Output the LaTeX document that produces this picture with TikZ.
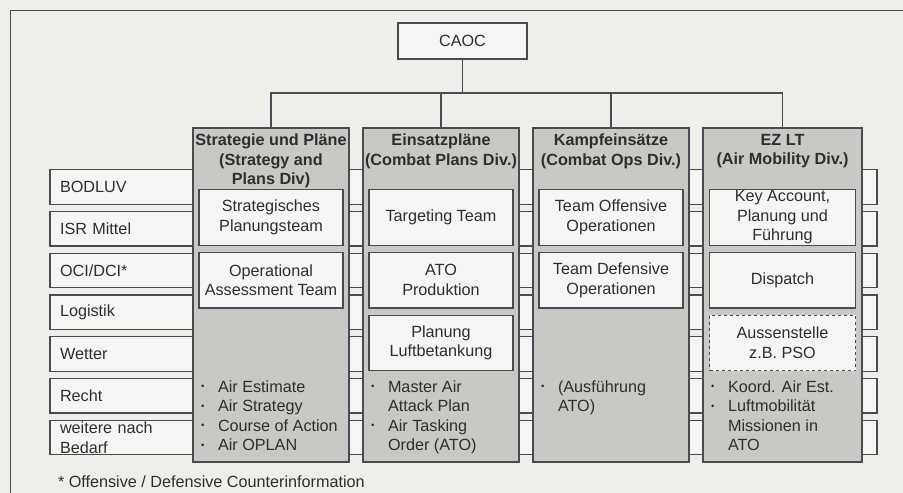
\documentclass[tikz,border=0pt]{standalone}
\usepackage{fontspec}
\setmainfont{Liberation Sans}
\usepackage{xcolor}
\usepackage{tikz}
\usetikzlibrary{positioning}

\definecolor{paper}{HTML}{EEEEEA}
\definecolor{divgray}{HTML}{C8C8C5}
\definecolor{boxwhite}{HTML}{F5F5F3}
\definecolor{edgegray}{HTML}{4C4952}
\definecolor{inkgray}{HTML}{2E2E2E}
\newcommand{\blt}{\raisebox{2.6pt}{\fontsize{9.5}{9.5}\selectfont\textbullet}}

\begin{document}
\begin{tikzpicture}[x=1pt,y=-1pt,node distance=41.75pt,line width=1.2pt,
		every node/.style={text=inkgray,font=\fontsize{16.2}{19.5}\selectfont}]
		\tikzstyle{band}=[draw=edgegray,fill=boxwhite,text width=807pt,align=left,
			minimum height=34.5pt,inner xsep=10pt,inner ysep=0pt]
		\tikzstyle{division}=[draw=edgegray,fill=divgray,minimum width=156pt,minimum height=334pt]
		\tikzstyle{header}=[font=\bfseries\fontsize{16.2}{19.5}\selectfont,align=center,inner ysep=3pt]
		\tikzstyle{team}=[draw=edgegray,fill=boxwhite,minimum width=144pt,minimum height=55.5pt,
			align=center,inner xsep=1pt,inner ysep=1pt]
		\tikzstyle{bullets}=[anchor=north west,inner sep=0pt,align=left]
		\tikzstyle{link}=[draw=edgegray]
		
		\useasboundingbox (0,0) rectangle (903,493);
		\fill[paper] (0,0) rectangle (903,493);
		\draw[edgegray,line width=1pt] (10,10) rectangle (925,515);
		
		\node[draw=edgegray,fill=boxwhite,minimum width=129pt,minimum height=36pt] (caoc) at (462.5,41) {CAOC};
		
		% support rows behind the divisions
		\node[band] (r1) at (463.5,187)   {BODLUV};
		\node[band] (r2) [below of=r1] {ISR Mittel};
		\node[band] (r3) [below of=r2] {OCI/DCI*};
		\node[band] (r4) [below of=r3] {Logistik};
		\node[band] (r5) [below of=r4] {Wetter};
		\node[band] (r6) [below of=r5] {Recht};
		\node[band] (r7) [below of=r6] {weitere nach\\Bedarf};
		
		% divisions
		\node[division] (d1) at (271,295) {};
		\node[division] (d2) [right of=d1, node distance=170pt] {};
		\node[division] (d3) [right of=d2, node distance=170pt] {};
		\node[division] (d4) [right of=d3, node distance=171.5pt, minimum width=159pt] {};
		
		\node[header, below=3pt of d1.north] (h1) {Strategie und Pläne\\(Strategy and\\Plans Div)};
		\node[header, below=3pt of d2.north] (h2) {Einsatzpläne\\(Combat Plans Div.)};
		\node[header, below=3pt of d3.north] (h3) {Kampfeinsätze\\(Combat Ops Div.)};
		\node[header, below=3pt of d4.north] (h4) {EZ LT\\(Air Mobility Div.)};
		
		\coordinate (bus) at (caoc.south |- 0,93);
		\path[link] (caoc.south) -- (bus)
			(bus) -| (d1.north)
			(bus) -| (d2.north)
			(bus) -| (d3.north)
			(bus) -| (d4.north);
		
		% teams
		\node[team] (s1) at ([yshift=-90pt]d1.north) {Strategisches\\Planungsteam};
		\node[team] (s2) [below of=s1, node distance=62.75pt] {Operational\\Assessment Team};
		
		\node[team] (e1) at ([yshift=-90pt]d2.north) {Targeting Team};
		\node[team] (e2) [below of=e1, node distance=62.75pt] {ATO\\Produktion};
		\node[team] (e3) [below of=e2, node distance=62.75pt] {Planung\\Luftbetankung};
		
		\node[team] (k1) at ([yshift=-90pt]d3.north) {Team Offensive\\Operationen};
		\node[team] (k2) [below of=k1, node distance=62.75pt] {Team Defensive\\Operationen};
		
		\node[team, minimum width=146pt] (m1) at ([yshift=-90pt]d4.north) {Key Account,\\Planung und\\Führung};
		\node[team, minimum width=146pt] (m2) [below of=m1, node distance=62.75pt] {Dispatch};
		\node[team, minimum width=146pt, dashed] (m3) [below of=m2, node distance=62.75pt] {Aussenstelle\\z.B. PSO};
		
		% products
		\node[bullets] (l1) at ([xshift=8pt]d1.west |- r6.north) {\begin{tabular}{@{}p{17pt}@{}l@{}}
				\blt & Air Estimate\\ \blt & Air Strategy\\ \blt & Course of Action\\ \blt & Air OPLAN\end{tabular}};
		\node[bullets] (l2) at ([xshift=8pt]d2.west |- r6.north) {\begin{tabular}{@{}p{17pt}@{}l@{}}
				\blt & Master Air\\ & Attack Plan\\ \blt & Air Tasking\\ & Order (ATO)\end{tabular}};
		\node[bullets] (l3) at ([xshift=8pt]d3.west |- r6.north) {\begin{tabular}{@{}p{17pt}@{}l@{}}
				\blt & (Ausführung\\ & ATO)\end{tabular}};
		\node[bullets] (l4) at ([xshift=8pt]d4.west |- r6.north) {\begin{tabular}{@{}p{17pt}@{}l@{}}
				\blt & Koord. Air Est.\\ \blt & Luftmobilität\\ & Missionen in\\ & ATO\end{tabular}};
		
		\node[below right=20pt and 8pt of r7.south west, inner sep=0pt] (note) {* Offensive / Defensive Counterinformation};
		
\end{tikzpicture}
\end{document}
